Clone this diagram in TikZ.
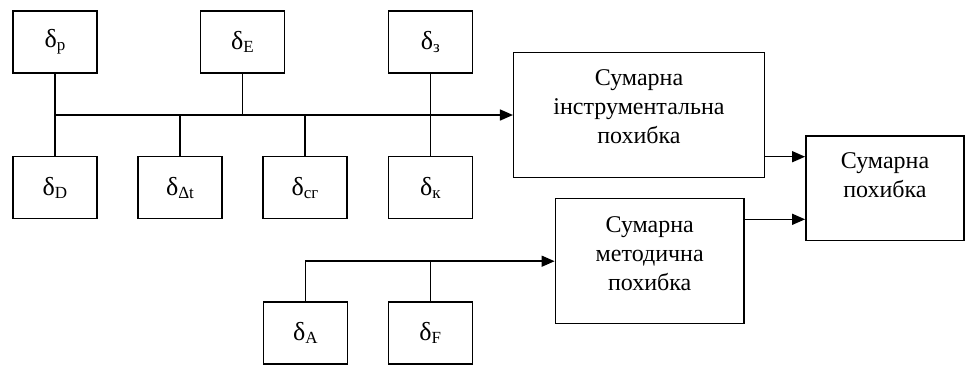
\documentclass[tikz,border=0pt]{standalone}
\usepackage{fontspec}
\setmainfont{Liberation Serif}
\usetikzlibrary{arrows.meta,calc}
\newcommand{\dsub}[1]{{\fontsize{26}{26}\selectfont δ}\raisebox{-3pt}{\fontsize{17}{17}\selectfont #1}}
\begin{document}
\begin{tikzpicture}[x=1pt,y=-1pt,
  line width=1.5pt,
  small/.style={draw, minimum width=84pt, minimum height=62pt, inner sep=0pt},
  big/.style={draw, inner sep=0pt},
  txt/.style={align=center, font=\fontsize{24}{29}\selectfont},
  arr/.style={-{Triangle[length=13pt,width=11pt]}}]
\useasboundingbox (0,0) rectangle (966,365);
% small boxes
\node[small] (p)  at (55,42)    {\dsub{р}};
\node[small] (E)  at (242.5,42) {\dsub{E}};
\node[small] (z)  at (430.3,42) {\dsub{з}};
\node[small] (D)  at (55,187.5) {\dsub{D}};
\node[small] (dt) at (180,187.5) {\dsub{Δt}};
\node[small] (cg) at (305,187.5) {\dsub{сг}};
\node[small] (k)  at (430.3,187.5) {\dsub{к}};
\node[small] (A)  at (305.3,333) {\dsub{A}};
\node[small] (F)  at (430.3,333) {\dsub{F}};
% big boxes
\node[big, minimum width=250.6pt, minimum height=124.6pt,
  label={[txt, yshift=8pt]center:Сумарна\\інструментальна\\похибка}] (ins) at (639,115) {};
\node[big, minimum width=158.3pt, minimum height=104.3pt,
  label={[txt, yshift=13pt]center:Сумарна\\похибка}] (tot) at (885,188.2) {};
\node[big, minimum width=188.7pt, minimum height=125pt,
  label={[txt, yshift=8pt]center:Сумарна\\методична\\похибка}] (met) at (649.7,261.2) {};
% upper bus
\coordinate (bus) at (55,115);
\draw (p.south) -- (D.north);
\draw (E.south) -- (E.south |- bus);
\draw (dt.north) -- (dt.north |- bus);
\draw (cg.north) -- (cg.north |- bus);
\draw (z.south) -- (k.north);
\draw[arr] (bus) -- (ins.west);
% lower bus
\coordinate (bus2) at (305.3,261.2);
\draw (A.north) -- (bus2);
\draw (F.north) -- (F.north |- bus2);
\draw[arr] (bus2) -- (met.west);
% to total
\coordinate (a1) at (0,156.7);
\coordinate (a2) at (0,219.3);
\draw[arr] (ins.east |- a1) -- (tot.west |- a1);
\draw[arr] (met.east |- a2) -- (tot.west |- a2);
\end{tikzpicture}
\end{document}
